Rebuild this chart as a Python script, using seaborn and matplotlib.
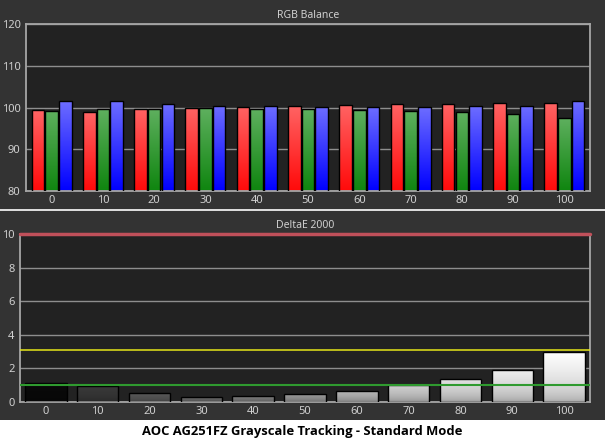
import numpy as np
import pandas as pd
import seaborn as sns
import matplotlib
matplotlib.use("Agg")
from matplotlib import pyplot as plt

# grayscale steps (% stimulus)
levels = ["0", "10", "20", "30", "40", "50", "60", "70", "80", "90", "100"]

# RGB balance per step
red = [99.4, 98.9, 99.7, 99.9, 100.2, 100.4, 100.6, 100.9, 100.9, 101.1, 101.1]
green = [99.2, 99.7, 99.7, 99.9, 99.7, 99.7, 99.5, 99.2, 98.9, 98.5, 97.5]
blue = [101.6, 101.6, 100.9, 100.4, 100.4, 100.2, 100.2, 100.2, 100.4, 100.4, 101.6]

# DeltaE 2000 per step
delta_e = [1.15, 0.96, 0.55, 0.32, 0.38, 0.50, 0.66, 1.04, 1.35, 1.90, 3.0]

# reference lines in the DeltaE panel
limit_red = 10
limit_yellow = 3.08
limit_green = 1.04

BG = "#333333"
AX_BG = "#222222"
SPINE = "#a6a6a6"
TXT = "#d0d0d0"

# gradient colours (top, bottom)
CH_GRAD = {"R": ("#ff6464", "#ff0a0a"),
           "G": ("#5fb05f", "#0f850f"),
           "B": ("#6e6eff", "#0000ff")}
GRAY_TOP = ["#0a0a0a", "#3a3a3a", "#5a5a5a", "#6c6c6c", "#808080", "#9c9c9c",
            "#b8b8b8", "#d2d2d2", "#e2e2e2", "#eeeeee", "#ffffff"]

sns.set_theme(style="dark")
plt.rcParams["font.family"] = ["Noto Sans", "DejaVu Sans"]


def hex_rgb(h):
    return np.array(matplotlib.colors.to_rgb(h))


def gradient_bar(ax, patch, top, bottom, ymin, power=1.0):
    x, w = patch.get_x(), patch.get_width()
    y0 = max(patch.get_y(), ymin)
    y1 = patch.get_y() + patch.get_height()
    t = np.linspace(0, 1, 100)[:, None] ** power
    cols = hex_rgb(bottom) + (hex_rgb(top) - hex_rgb(bottom)) * t
    im = ax.imshow(cols.reshape(100, 1, 3), extent=[x, x + w, y0, y1],
                   origin="lower", aspect="auto", interpolation="bilinear",
                   zorder=2)
    im.set_clip_path(patch)
    patch.set_facecolor("none")
    patch.set_zorder(3)


def style_axes(ax, ylim, yticks):
    ax.set_facecolor(AX_BG)
    ax.set_ylim(*ylim)
    ax.set_xlim(-0.5, len(levels) - 0.5)
    ax.set_yticks(yticks)
    ax.set_xticks(np.arange(-0.5, len(levels), 1), minor=True)
    ax.tick_params(axis="x", which="major", length=0, colors=TXT, labelsize=8, pad=3)
    ax.tick_params(axis="x", which="minor", length=3, width=1, color=SPINE, direction="out")
    ax.tick_params(axis="y", length=3, width=1, color=SPINE, labelcolor=TXT, labelsize=8, pad=1)
    ax.set_xlabel("")
    ax.set_ylabel("")
    ax.grid(False)
    ax.yaxis.grid(True, color="#8e8e8e", lw=1)
    ax.set_axisbelow(True)
    for s in ax.spines.values():
        s.set_visible(True)
        s.set_color(SPINE)
        s.set_linewidth(1.3)


fig = plt.figure(figsize=(6.05, 4.41), dpi=100, facecolor=BG)
# white strip for caption and separator line
fig.patches.append(plt.Rectangle((0, 0), 1, 21 / 441, transform=fig.transFigure,
                                 facecolor="white", edgecolor="none", zorder=0))
fig.add_artist(plt.Line2D([0, 1], [1 - 210 / 441] * 2, color="white", lw=1.2))

# ---- RGB Balance ----
ax1 = fig.add_axes([26 / 605, 1 - 191 / 441, 564 / 605, 167 / 441])
rgb = pd.DataFrame({"level": levels * 3,
                    "value": red + green + blue,
                    "ch": ["R"] * 11 + ["G"] * 11 + ["B"] * 11})
sns.barplot(data=rgb, x="level", y="value", hue="ch", order=levels,
            hue_order=["R", "G", "B"], palette=["red", "green", "blue"],
            width=0.8, gap=0.08, edgecolor="black", linewidth=1,
            legend=False, ax=ax1)
style_axes(ax1, (80, 120), [80, 90, 100, 110, 120])
for ch, cont in zip(["R", "G", "B"], ax1.containers):
    for p in cont.patches:
        gradient_bar(ax1, p, *CH_GRAD[ch], ymin=80)
ax1.set_xlim(-0.5, len(levels) - 0.5)
ax1.set_ylim(80, 120)
ax1.set_title("RGB Balance", color=TXT, fontsize=7.5, pad=4)

# ---- DeltaE 2000 ----
ax2 = fig.add_axes([20 / 605, 1 - 402 / 441, 570 / 605, 168 / 441])
sns.barplot(x=levels, y=delta_e, order=levels, color="gray", width=0.8,
            edgecolor="black", linewidth=1, ax=ax2)
style_axes(ax2, (0, 10), [0, 2, 4, 6, 8, 10])
for i, p in enumerate(ax2.patches):
    top = GRAY_TOP[i]
    bottom = hex_rgb(top) * 0.62
    gradient_bar(ax2, p, top, matplotlib.colors.to_hex(bottom), ymin=0, power=0.45)
ax2.set_xlim(-0.5, len(levels) - 0.5)
ax2.set_ylim(0, 10)
ax2.axhline(limit_red, color="#c0505a", lw=2.5, zorder=4, clip_on=False)
ax2.axhline(limit_yellow, color="#e6e619", lw=1.1, zorder=4)
ax2.axhline(limit_green, color="#2f9a2f", lw=1.5, zorder=4)
ax2.spines["top"].set_visible(False)
ax2.set_title("DeltaE 2000", color=TXT, fontsize=7.5, pad=4)

fig.text(0.5, 10 / 441, "AOC AG251FZ Grayscale Tracking - Standard Mode",
         ha="center", va="center", color="black", fontsize=9.4,
         fontweight="bold", family=["Open Sans", "DejaVu Sans"])

fig.savefig("out.png", dpi=100, facecolor=BG)
